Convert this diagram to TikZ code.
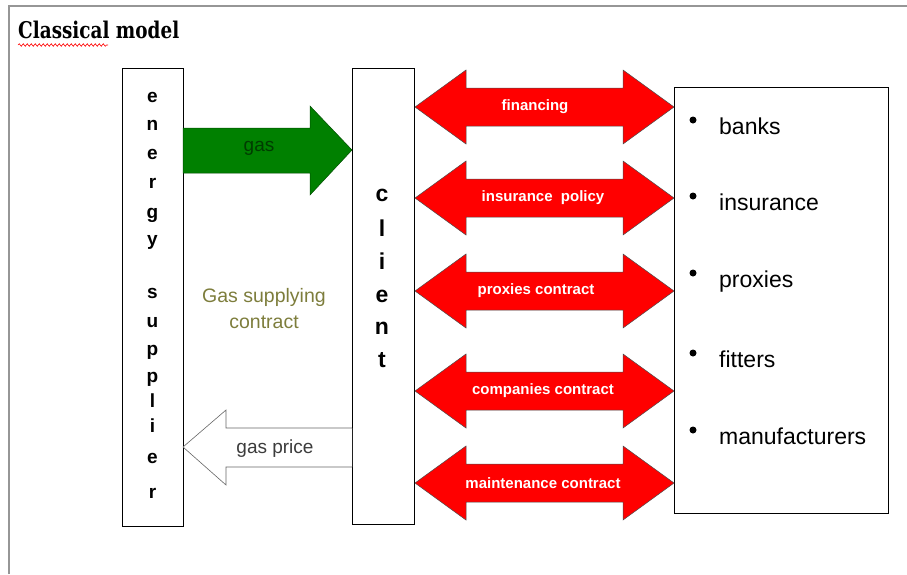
\documentclass[tikz,border=0pt]{standalone}
\usepackage{fontspec}
\setmainfont{Liberation Sans}
\newfontfamily\titlefont{DejaVu Serif}
\usetikzlibrary{decorations.pathmorphing}
\definecolor{frameGray}{RGB}{150,150,150}
\definecolor{gasGreen}{RGB}{0,128,0}
\definecolor{gasText}{RGB}{0,60,0}
\definecolor{olive}{RGB}{125,125,60}
\definecolor{arrowRed}{RGB}{255,0,0}
\definecolor{priceText}{RGB}{60,60,60}
\tikzset{
  box/.style={draw=black, line width=0.9pt, fill=white, inner sep=0pt},
  supletter/.style={font=\bfseries\fontsize{19}{19}\selectfont, text height=10pt, text depth=0pt, inner sep=0pt},
  clientletter/.style={font=\bfseries\fontsize{23}{23}\selectfont, text height=12pt, text depth=0pt, inner sep=0pt},
  redarrow/.style={fill=arrowRed, draw=black!70, line width=0.5pt, line join=miter},
  redlabel/.style={text=white, font=\bfseries\fontsize{15}{15}\selectfont, inner sep=0pt},
  listitem/.style={anchor=base west, font=\fontsize{23}{23}\selectfont, inner sep=0pt},
  bullet/.style={circle, fill=black, inner sep=0pt, minimum size=7pt},
}
\begin{document}
\begin{tikzpicture}[x=1pt,y=-1pt]
\useasboundingbox (0,0) rectangle (907,574);
% frame
\draw[frameGray, line width=2pt] (9,574) -- (9,6) -- (907,6);
% title
\node[anchor=west, inner sep=0pt] (title) at (18,30) {\titlefont\bfseries\fontsize{23}{23}\selectfont\scalebox{0.8}[1]{Classical model}};
\draw[red, line width=0.6pt, decorate, decoration={snake, amplitude=1.3pt, segment length=4pt}] (18,45) -- (108,45);

% boxes
\node[box, minimum width=61pt, minimum height=458pt] (sup) at (152.5,297) {};
\node[box, minimum width=62pt, minimum height=456pt] (client) at (383,296) {};
\node[box, minimum width=214pt, minimum height=426pt] (others) at (781,300) {};

% energy supplier letters
\foreach \c/\yy [count=\i] in {e/97,n/125,e/154,r/183,g/213,y/240,s/293,u/322,p/350,p/377,l/402,i/427,e/458,r/493}
  \node[supletter] (sl\i) at (152.5,\yy) {\c};

% client letters
\foreach \c/\yy [count=\i] in {c/195,l/230,i/263,e/296,n/328,t/361}
  \node[clientletter] (cl\i) at (382,\yy) {\c};

% green gas arrow
\draw[fill=gasGreen, draw=gasGreen!60!black, line width=0.5pt]
  (183,128) -- (310,128) -- (310,106) -- (352,150) -- (310,195) -- (310,173) -- (183,173) -- cycle;
\node[text=gasText, font=\fontsize{19}{19}\selectfont, inner sep=0pt] (gas) at (259,148) {gas};

% contract text
\node[text=olive, font=\fontsize{19.5}{26}\selectfont, align=center, inner sep=0pt] (contract) at (264,309) {Gas supplying\\contract};

% white gas price arrow
\draw[fill=white, draw=black!60, line width=0.6pt]
  (352,428) -- (226,428) -- (226,410) -- (183,447) -- (226,485) -- (226,467) -- (352,467);
\node[text=priceText, font=\fontsize{19}{19}\selectfont, inner sep=0pt] (price) at (275,449) {gas price};

% red double arrows
\foreach \yy/\lab/\lx [count=\i] in {107/financing/535, 198/insurance\ \ policy/543, 291/proxies contract/536, 391/companies contract/543, 483/maintenance contract/543}{
  \draw[redarrow] (415,\yy) -- (466,\yy-37) -- (466,\yy-19) -- (623,\yy-19) -- (623,\yy-37) -- (674,\yy)
    -- (623,\yy+37) -- (623,\yy+19) -- (466,\yy+19) -- (466,\yy+37) -- cycle;
  \node[redlabel] (r\i) at (\lx,\yy) {\lab};
}

% list
\foreach \t/\yy [count=\i] in {banks/127, insurance/203, proxies/280, fitters/360, manufacturers/437}{
  \node[bullet] (b\i) at (693,\yy-7) {};
  \node[listitem] (t\i) at (719,\yy+7) {\t};
}
\end{tikzpicture}
\end{document}
